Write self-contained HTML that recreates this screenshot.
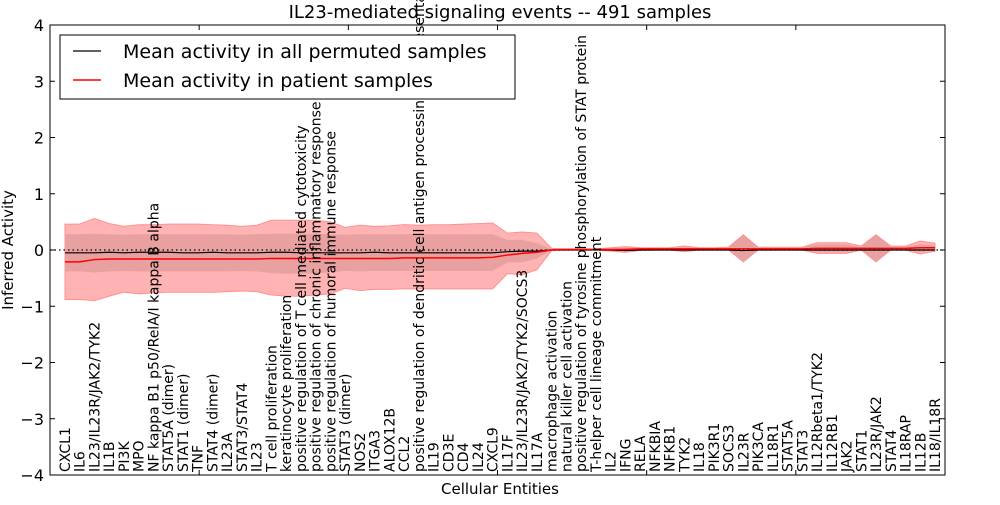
<!DOCTYPE html>
<html><head><meta charset="utf-8"><style>
body{margin:0;background:#fff;}
svg text{font-family:"DejaVu Sans","Liberation Sans",sans-serif;}
</style></head><body>
<svg id="chart" width="1000" height="500" xmlns="http://www.w3.org/2000/svg">
<rect width="1000" height="500" fill="#fff"/>
<g id="plot"></g>
<text x="500" y="18" font-size="18" text-anchor="middle">IL23-mediated signaling events -- 491 samples</text>
<text x="500" y="494" font-size="15" text-anchor="middle">Cellular Entities</text>
<text x="13" y="250" font-size="15" text-anchor="middle" transform="rotate(-90 13 250)">Inferred Activity</text>
</svg>
<script>
const categories=["CXCL1","IL6","IL23/IL23R/JAK2/TYK2","IL1B","PI3K","MPO","NF kappa B1 p50/RelA/I kappa B alpha","STAT5A (dimer)","STAT1 (dimer)","TNF","STAT4 (dimer)","IL23A","STAT3/STAT4","IL23","T cell proliferation","keratinocyte proliferation","positive regulation of T cell mediated cytotoxicity","positive regulation of chronic inflammatory response","positive regulation of humoral immune response","STAT3 (dimer)","NOS2","ITGA3","ALOX12B","CCL2","positive regulation of dendritic cell antigen processing and presentation","IL19","CD3E","CD4","IL24","CXCL9","IL17F","IL23/IL23R/JAK2/TYK2/SOCS3","IL17A","macrophage activation","natural killer cell activation","positive regulation of tyrosine phosphorylation of STAT protein","T-helper cell lineage commitment","IL2","IFNG","RELA","NFKBIA","NFKB1","TYK2","IL18","PIK3R1","SOCS3","IL23R","PIK3CA","IL18R1","STAT5A","STAT3","IL12Rbeta1/TYK2","IL12RB1","JAK2","STAT1","IL23R/JAK2","STAT4","IL18RAP","IL12B","IL18/IL18R"];
const outerTop=[0.46,0.46,0.56,0.47,0.42,0.45,0.45,0.46,0.46,0.46,0.45,0.44,0.42,0.44,0.53,0.53,0.53,0.53,0.5,0.40,0.44,0.42,0.43,0.45,0.44,0.45,0.45,0.46,0.47,0.48,0.30,0.32,0.30,0.03,0.02,0.02,0.02,0.04,0.06,0.04,0.04,0.04,0.07,0.04,0.04,0.05,0.27,0.05,0.05,0.05,0.05,0.13,0.13,0.13,0.07,0.27,0.07,0.07,0.16,0.12];
const outerBottom=[-0.88,-0.88,-0.9,-0.82,-0.75,-0.78,-0.76,-0.75,-0.75,-0.75,-0.75,-0.74,-0.73,-0.74,-0.8,-0.82,-0.82,-0.8,-0.78,-0.68,-0.72,-0.7,-0.7,-0.69,-0.69,-0.69,-0.69,-0.69,-0.69,-0.69,-0.42,-0.44,-0.35,-0.01,0,0,0,-0.02,-0.04,-0.01,0,0,-0.03,0,0,0,-0.21,0,0,0,0,-0.06,-0.06,-0.06,0,-0.21,0,0,-0.07,-0.02];
const innerTop=[0.28,0.28,0.29,0.28,0.27,0.28,0.28,0.28,0.28,0.28,0.28,0.28,0.27,0.28,0.29,0.29,0.29,0.29,0.28,0.27,0.28,0.28,0.28,0.28,0.28,0.28,0.28,0.28,0.28,0.28,0.18,0.18,0.12,0.02,0.02,0.02,0.02,0.03,0.04,0.03,0.03,0.03,0.04,0.03,0.03,0.04,0.27,0.04,0.04,0.04,0.04,0.1,0.1,0.1,0.05,0.27,0.05,0.05,0.1,0.08];
const innerBottom=[-0.38,-0.38,-0.4,-0.38,-0.37,-0.38,-0.38,-0.38,-0.38,-0.38,-0.38,-0.38,-0.37,-0.38,-0.41,-0.42,-0.42,-0.41,-0.4,-0.37,-0.38,-0.37,-0.37,-0.37,-0.37,-0.37,-0.37,-0.37,-0.37,-0.37,-0.22,-0.22,-0.15,0,0,0,0,-0.01,-0.02,0,0,0,-0.01,0,0,0,-0.21,0,0,0,0,-0.03,-0.03,-0.03,0,-0.21,0,0,-0.03,0];
const patientMean=[-0.21,-0.21,-0.17,-0.16,-0.16,-0.16,-0.16,-0.16,-0.16,-0.16,-0.16,-0.16,-0.16,-0.16,-0.15,-0.15,-0.15,-0.15,-0.15,-0.15,-0.15,-0.15,-0.15,-0.14,-0.14,-0.14,-0.14,-0.14,-0.14,-0.13,-0.09,-0.06,-0.04,0,0.01,0.01,0.01,0.01,0.01,0.02,0.02,0.02,0.02,0.02,0.02,0.02,0.02,0.02,0.02,0.02,0.02,0.03,0.03,0.03,0.03,0.03,0.03,0.03,0.04,0.04];
const permutedMean=[-0.05,-0.05,-0.05,-0.04,-0.05,-0.04,-0.04,-0.04,-0.05,-0.05,-0.04,-0.05,-0.05,-0.05,-0.04,-0.04,-0.05,-0.05,-0.05,-0.05,-0.05,-0.04,-0.05,-0.05,-0.05,-0.05,-0.05,-0.05,-0.05,-0.05,-0.03,-0.02,-0.02,0,0,0,0,0,-0.01,0,0,0,0,0,0,0,-0.01,0,0,0,0,0,0,0,0,0,0,0,0,0];
const yTicks=[-4,-3,-2,-1,0,1,2,3,4];
const yTickLabels=["\u22124","\u22123","\u22122","\u22121","0","1","2","3","4"];

const L=50,R=945,T=25,B=475;
const xs=i=>65+i*(870/(categories.length-1));
const ys=v=>T+(4-v)*(B-T)/8;
const NS="http://www.w3.org/2000/svg";
const plot=document.getElementById('plot');
function mk(tag,attrs,parent){const e=document.createElementNS(NS,tag);for(const k in attrs)e.setAttribute(k,attrs[k]);(parent||plot).appendChild(e);return e;}
function band(top,bot){let d='M'+top.map((v,i)=>xs(i)+','+ys(v)).join(' L');for(let i=bot.length-1;i>=0;i--)d+=' L'+xs(i)+','+ys(bot[i]);return d+'Z';}
function line(arr){return 'M'+arr.map((v,i)=>xs(i)+','+ys(v)).join(' L');}

let e=mk('path',{d:band(outerTop,outerBottom),fill:'#ffb3b3',stroke:'#ff9090','stroke-width':1});


e=mk('path',{d:band(innerTop,innerBottom),fill:'#e8a0a0',stroke:'none'});


e=mk('line',{x1:L,x2:R,y1:ys(0),y2:ys(0),stroke:'#000','stroke-dasharray':'1.5,3','stroke-width':1.2});


e=mk('path',{d:line(permutedMean),fill:'none',stroke:'#000','stroke-width':1.2});


e=mk('path',{d:line(patientMean),fill:'none',stroke:'#ff0000','stroke-width':1.5});



categories.forEach((c,i)=>{
  const x=xs(i)+5,y=472;
  const t=mk('text',{x:x,y:y,'font-size':14,transform:`rotate(-90 ${x} ${y})`});
  t.textContent=c;
  
  
});

yTicks.forEach((v,i)=>{
  const y=ys(v);
  let t=mk('line',{x1:L,x2:L+5,y1:y,y2:y,stroke:'#000'});
  
  
  t=mk('line',{x1:R-5,x2:R,y1:y,y2:y,stroke:'#000'});
  
  
  const lb=mk('text',{x:L-6,y:y+6,'font-size':16,'text-anchor':'end'});
  lb.textContent=yTickLabels[i];
  
  
});
for(let k=1;k<6;k++){
  const x=L+k*(R-L)/6;
  let t=mk('line',{x1:x,x2:x,y1:T,y2:T+5,stroke:'#000'});
  
  
  t=mk('line',{x1:x,x2:x,y1:B-5,y2:B,stroke:'#000'});
  
  
}
e=mk('rect',{x:L,y:T,width:R-L,height:B-T,fill:'none',stroke:'#000','stroke-width':1});



const lg=mk('g',{});


mk('rect',{x:60,y:35,width:455,height:64,fill:'#fff',stroke:'#000'},lg);
mk('line',{x1:73,x2:101,y1:51,y2:51,stroke:'#000','stroke-width':1.2},lg);
mk('line',{x1:73,x2:101,y1:80,y2:80,stroke:'#ff0000','stroke-width':1.5},lg);
let t1=mk('text',{x:123,y:58,'font-size':19},lg);t1.textContent='Mean activity in all permuted samples';


let t2=mk('text',{x:123,y:87,'font-size':19},lg);t2.textContent='Mean activity in patient samples';


</script>
</body></html>
